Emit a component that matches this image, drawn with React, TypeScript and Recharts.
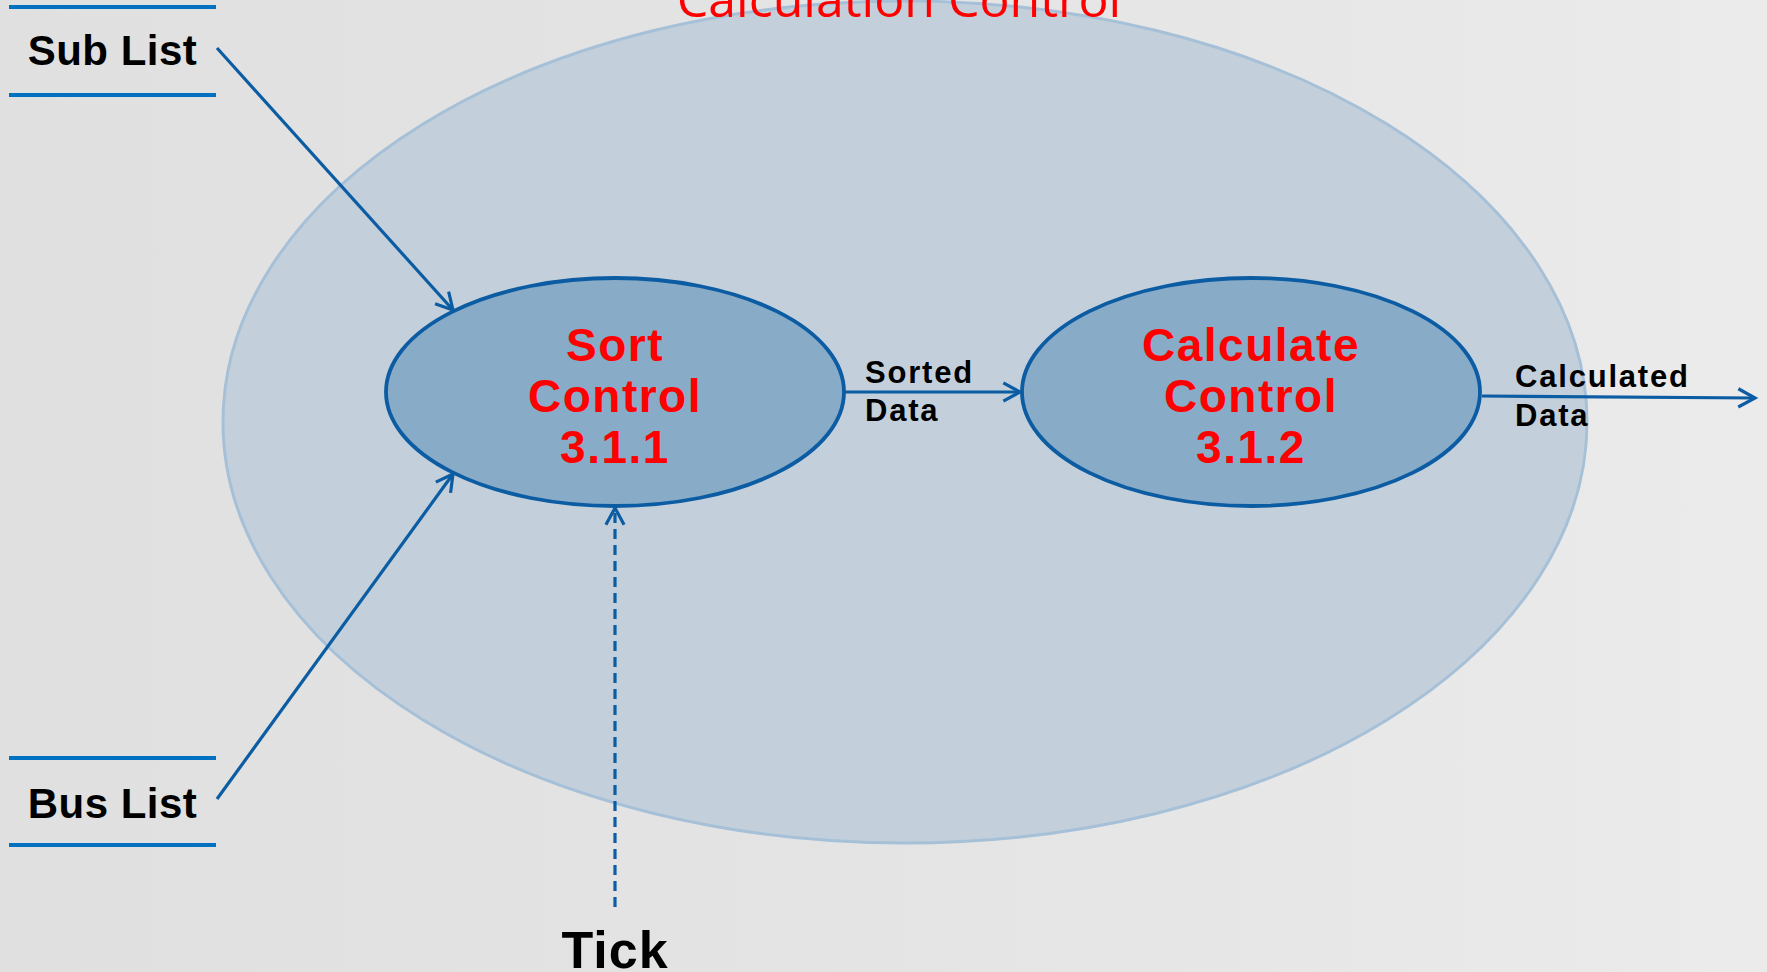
import { ReferenceArea, ReferenceDot, ReferenceLine, Scatter, ScatterChart, XAxis, YAxis } from 'recharts';

const W = 1767;
const H = 972;

// diagram geometry, in data units (x: 0..W, y: 0..H from the top)
const context = { cx: 905, cy: 422, rx: 682, ry: 421 };

const processes = [
  { id: 'sort', x: 615, y: 392, rx: 229, ry: 114, lines: ['Sort', 'Control', '3.1.1'] },
  { id: 'calc', x: 1251, y: 392, rx: 229, ry: 114, lines: ['Calculate', 'Control', '3.1.2'] },
];

// data stores: two horizontal rules around a name
const stores = [
  { name: 'Sub List', x1: 9, x2: 216, yTop: 7, yBottom: 95, labelY: 65 },
  { name: 'Bus List', x1: 9, x2: 216, yTop: 758, yBottom: 845, labelY: 818 },
];

const flows = [
  { from: { x: 217, y: 48 }, to: { x: 453, y: 310 }, dashed: false },
  { from: { x: 217, y: 799 }, to: { x: 453, y: 474 }, dashed: false },
  { from: { x: 615, y: 907 }, to: { x: 615, y: 508 }, dashed: true },
  { from: { x: 844, y: 392 }, to: { x: 1020, y: 392 }, dashed: false },
  { from: { x: 1482, y: 396 }, to: { x: 1755, y: 398 }, dashed: false },
];

const flowLabels = [
  { text: 'Sorted', x: 865, y: 383 },
  { text: 'Data', x: 865, y: 421 },
  { text: 'Calculated', x: 1515, y: 387 },
  { text: 'Data', x: 1515, y: 426 },
];

const terminators = [{ text: 'Tick', x: 615, y: 968 }];
const title = { text: 'Calculation Control', x: 899, y: 17 };

const BLUE = '#0b5ca3';
const STORE_BLUE = '#0070c0';
const BOLD = "'Liberation Sans', Arial, sans-serif";

const ellipseShape = (fill: string, stroke: string, strokeWidth: number) => (p: any) => (
  <ellipse
    cx={p.x + p.width / 2}
    cy={p.y + p.height / 2}
    rx={p.width / 2}
    ry={p.height / 2}
    fill={fill}
    stroke={stroke}
    strokeWidth={strokeWidth}
  />
);

const arrowShape = (dashed: boolean) => (p: any) => {
  const { x1, y1, x2, y2 } = p;
  const a = Math.atan2(y2 - y1, x2 - x1);
  const len = 19;
  const spread = 0.5;
  const hx1 = x2 - len * Math.cos(a - spread);
  const hy1 = y2 - len * Math.sin(a - spread);
  const hx2 = x2 - len * Math.cos(a + spread);
  const hy2 = y2 - len * Math.sin(a + spread);
  return (
    <g>
      <line x1={x1} y1={y1} x2={x2} y2={y2} stroke={BLUE} strokeWidth={3.2} strokeDasharray={dashed ? '10 6' : undefined} />
      <path d={`M${hx1},${hy1} L${x2},${y2} L${hx2},${hy2}`} fill="none" stroke={BLUE} strokeWidth={3.2} />
    </g>
  );
};

const ruleShape = (p: any) => (
  <line x1={p.x1} y1={p.y1} x2={p.x2} y2={p.y2} stroke={STORE_BLUE} strokeWidth={4} />
);

const textShape =
  (text: string, size: number, anchor: 'start' | 'middle', spacing: number) => (p: any) => (
    <text
      x={p.cx}
      y={p.cy}
      textAnchor={anchor}
      fontFamily={BOLD}
      fontWeight="bold"
      fontSize={size}
      letterSpacing={spacing}
      fill="#000"
    >
      {text}
    </text>
  );

const titleShape = (p: any) => (
  <text x={p.cx} y={p.cy} textAnchor="middle" fontFamily="'Open Sans', sans-serif" fontSize={50} fill="#ff0000">
    {title.text}
  </text>
);

const processText = (p: any) => {
  const offsets = [-31, 20, 71];
  return (
    <g>
      {p.payload.lines.map((line: string, i: number) => (
        <text
          key={line + i}
          x={p.cx}
          y={p.cy + offsets[i]}
          textAnchor="middle"
          fontFamily={BOLD}
          fontWeight="bold"
          fontSize={46}
          letterSpacing={1.5}
          fill="#ff0000"
        >
          {line}
        </text>
      ))}
    </g>
  );
};

export default function App() {
  return (
    <div
      style={{
        width: W,
        height: H,
        background: 'linear-gradient(90deg, #e0e0e0 0%, #e4e4e4 50%, #ebebeb 100%)',
      }}
    >
      <style>{'body{margin:0;overflow:hidden}'}</style>
      <ScatterChart width={W} height={H} margin={{ top: 0, right: 0, bottom: 0, left: 0 }}>
        <XAxis type="number" dataKey="x" domain={[0, W]} hide allowDataOverflow />
        <YAxis type="number" dataKey="y" domain={[0, H]} reversed hide allowDataOverflow />

        <ReferenceArea
          x1={context.cx - context.rx}
          x2={context.cx + context.rx}
          y1={context.cy - context.ry}
          y2={context.cy + context.ry}
          ifOverflow="visible"
          shape={ellipseShape('#c3d0db', '#a6c0d8', 3)}
        />

        {stores.map((s) => (
          <ReferenceLine
            key={s.name + 'top'}
            segment={[{ x: s.x1, y: s.yTop }, { x: s.x2, y: s.yTop }]}
            shape={ruleShape}
          />
        ))}
        {stores.map((s) => (
          <ReferenceLine
            key={s.name + 'bottom'}
            segment={[{ x: s.x1, y: s.yBottom }, { x: s.x2, y: s.yBottom }]}
            shape={ruleShape}
          />
        ))}

        {processes.map((p) => (
          <ReferenceArea
            key={p.id}
            x1={p.x - p.rx}
            x2={p.x + p.rx}
            y1={p.y - p.ry}
            y2={p.y + p.ry}
            shape={ellipseShape('#88abc7', BLUE, 3.8)}
          />
        ))}

        {flows.map((f, i) => (
          <ReferenceLine key={'flow' + i} segment={[f.from, f.to]} shape={arrowShape(f.dashed)} />
        ))}

        {stores.map((s) => (
          <ReferenceDot
            key={s.name}
            x={(s.x1 + s.x2) / 2}
            y={s.labelY}
            r={0}
            shape={textShape(s.name, 42, 'middle', 0.5)}
          />
        ))}
        {flowLabels.map((l, i) => (
          <ReferenceDot key={'fl' + i} x={l.x} y={l.y} r={0} shape={textShape(l.text, 31, 'start', 1.8)} />
        ))}
        {terminators.map((t) => (
          <ReferenceDot key={t.text} x={t.x} y={t.y} r={0} shape={textShape(t.text, 52, 'middle', 1)} />
        ))}
        <ReferenceDot x={title.x} y={title.y} r={0} shape={titleShape} />

        <Scatter data={processes} shape={processText} isAnimationActive={false} />
      </ScatterChart>
    </div>
  );
}
